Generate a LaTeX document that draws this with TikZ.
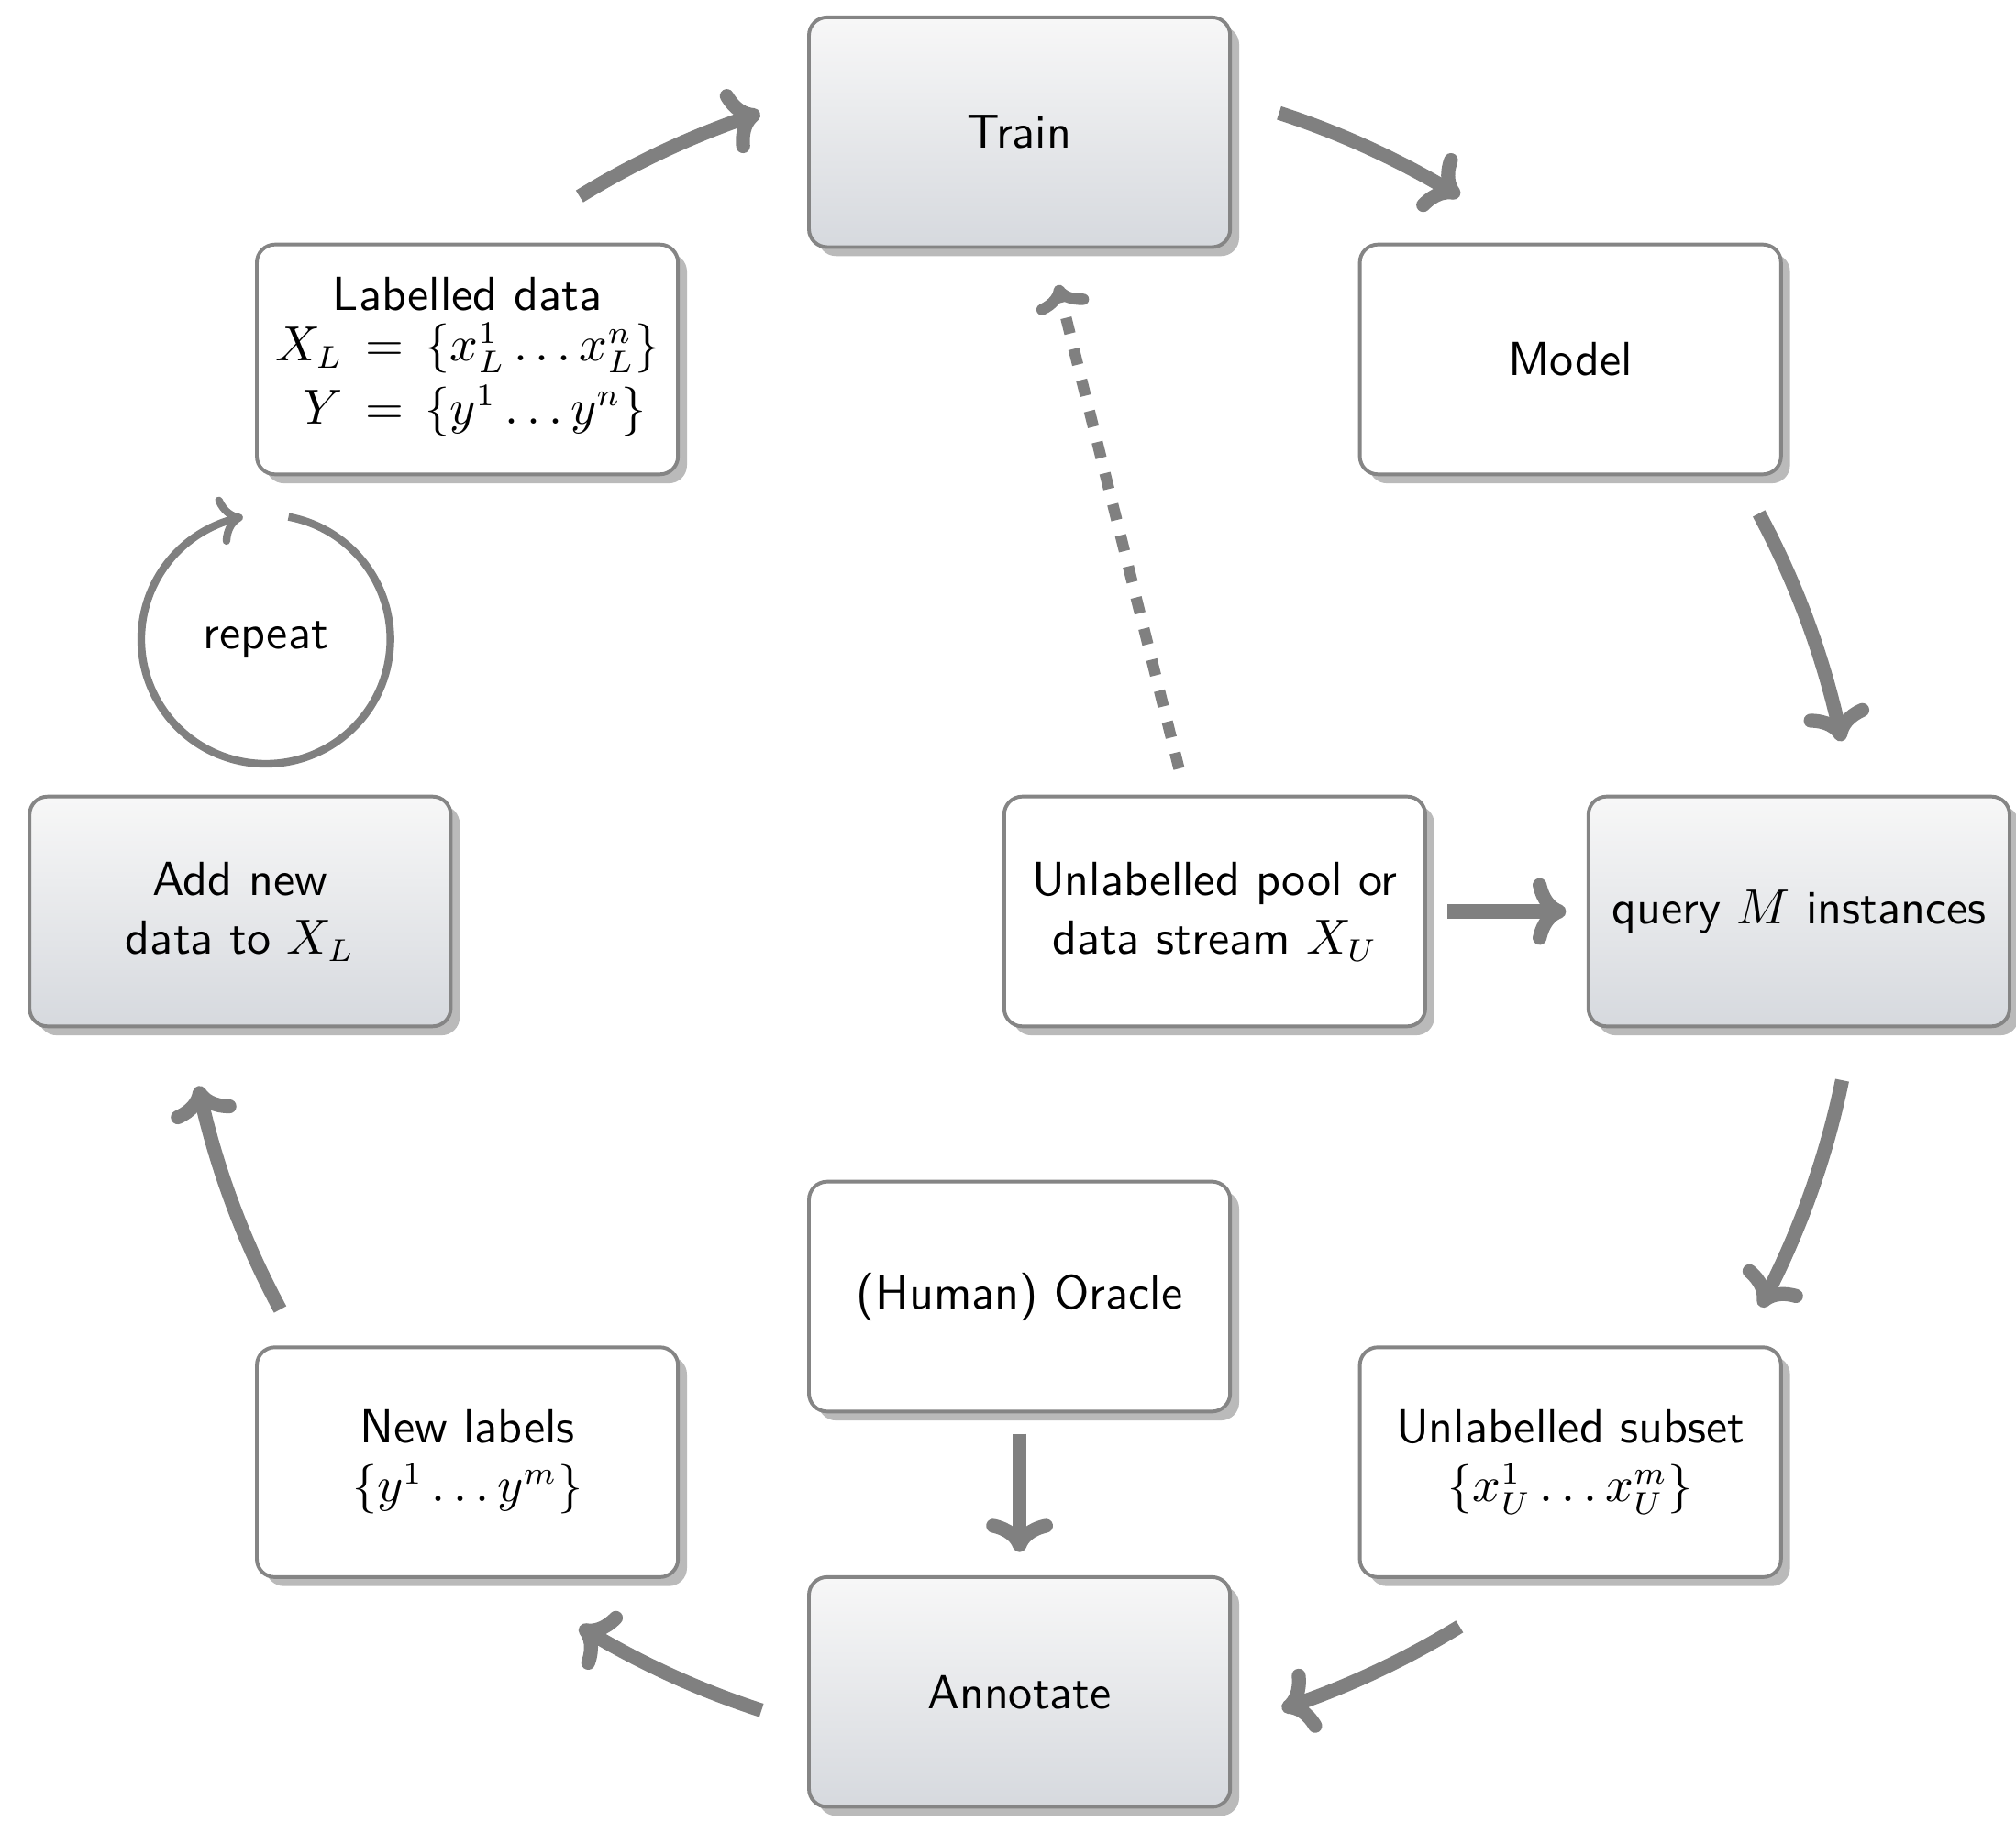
\documentclass[tikz,border=0pt]{standalone}
\usepackage{amsmath}
\usetikzlibrary{arrows.meta,bending,shadows}
\definecolor{flowgray}{HTML}{808080}
\definecolor{framegray}{HTML}{858585}
\definecolor{shadegray}{HTML}{D6D9DE}
\begin{document}
\begin{tikzpicture}[
        font=\sffamily\fontsize{10.6}{13}\selectfont,
        % Kasten-Stile
        box/.style={draw=framegray, line width=0.8pt, fill=white, rectangle, minimum width=3.28cm, minimum height=1.79cm, align=center, rounded corners=4pt, drop shadow={shadow xshift=0.07cm, shadow yshift=-0.07cm, fill=black!27, opacity=1}},
        shadedbox/.style={box, top color=white!97!black, bottom color=shadegray},
        flow/.style={line width=3.1pt, draw=flowgray, -{To[length=2.6mm, width=5.2mm, round]}},
        feed/.style={line width=2.5pt, draw=flowgray, dash pattern=on 3.6pt off 3.5pt, -{To[length=2mm, width=4.2mm, round]}},
        repeatarc/.style={line width=1.7pt, draw=flowgray, -{To[length=1.9mm, width=3.8mm, round]}}
    ]
    \useasboundingbox (0,0) rectangle (15.7,-14.186);

    % ==========================================
    % 1. KNOTEN
    % ==========================================

    % Mittelpunkt des Kreislaufs
    \coordinate (hub) at (7.94,-7.10);

    % Kreislauf (im Uhrzeigersinn)
    \node[shadedbox] (train) at (7.94,-1.03) {Train};
    \node[box] (model) at (12.23,-2.80) {Model};
    \node[shadedbox] (query) at (14.01,-7.10) {query $M$ instances};
    \node[box] (subset) at (12.23,-11.39) {Unlabelled subset\\ $\{x_U^1 \dots x_U^m\}$};
    \node[shadedbox] (annotate) at (7.94,-13.18) {Annotate};
    \node[box] (newlabels) at (3.64,-11.39) {New labels\\ $\{y^1 \dots y^m\}$};
    \node[shadedbox] (addnew) at (1.87,-7.10) {Add new\\ data to $X_L$};
    \node[box] (labelled) at (3.64,-2.80) {Labelled data\\[1pt]
        \begin{tabular}{@{}r@{}l@{}}
            $X_L$ & ${}\,=\,\{x_L^1 \dots x_L^n\}$\\[1pt]
            $Y$ & ${}\,=\,\{y^1 \dots y^n\}$
        \end{tabular}};

    % Innen
    \node[box] (pool) at (9.46,-7.10) {Unlabelled pool or\\ data stream $X_U$};
    \node[box] (oracle) at (7.94,-10.10) {(Human) Oracle};
    \node[circle, minimum size=1.94cm] (again) at (2.07,-4.98) {repeat};

    % ==========================================
    % 2. VERBINDUNGEN
    % ==========================================

    % --- Bögen um den Mittelpunkt ---
    \draw[flow] ([shift={(121.6:6.54)}]hub) arc[start angle=121.6, end angle=108, radius=6.54];
    \draw[flow] ([shift={(72:6.54)}]hub) arc[start angle=72, end angle=58.4, radius=6.54];
    \draw[flow] ([shift={(28.3:6.54)}]hub) arc[start angle=28.3, end angle=11.7, radius=6.54];
    \draw[flow] ([shift={(-11.6:6.54)}]hub) arc[start angle=-11.6, end angle=-28.1, radius=6.54];
    \draw[flow] ([shift={(-58.4:6.54)}]hub) arc[start angle=-58.4, end angle=-71.8, radius=6.54];
    \draw[flow] ([shift={(-107.9:6.54)}]hub) arc[start angle=-107.9, end angle=-121.6, radius=6.54];
    \draw[flow] ([shift={(-151.7:6.54)}]hub) arc[start angle=-151.7, end angle=-168, radius=6.54];

    % --- Gerade Pfeile ---
    \draw[flow, shorten <=0.16cm, shorten >=0.16cm] (pool) -- (query);
    \draw[flow, shorten <=0.16cm, shorten >=0.18cm] (oracle) -- (annotate);
    \draw[feed, shorten <=0.21cm, shorten >=0.29cm] (pool) -- (train);

    % --- Wiederholung ---
    \draw[repeatarc] ([shift={(79.5:0.97)}]again.center) arc[start angle=79.5, end angle=-259.4, radius=0.97];

\end{tikzpicture}
\end{document}
